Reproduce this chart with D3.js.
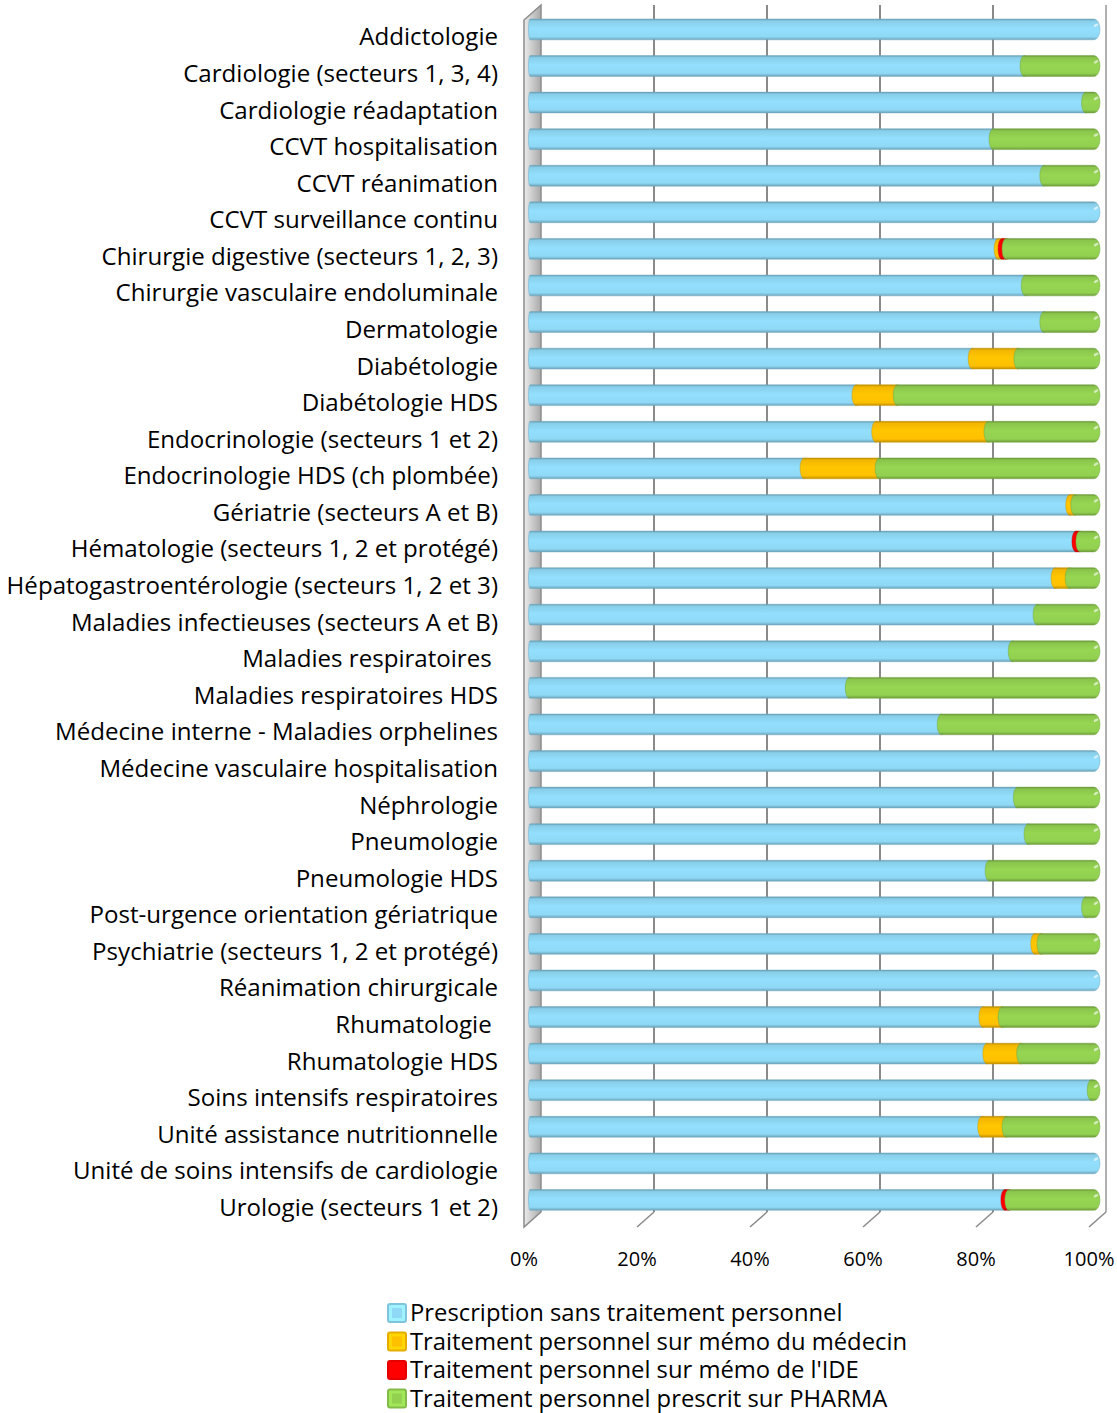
<!DOCTYPE html>
<html>
<head>
<meta charset="utf-8">
<script src="https://cdn.jsdelivr.net/npm/d3@7"></script>
<style>
  body { margin: 0; background: #fff; }
  text { font-family: "Open Sans", Lato, sans-serif; fill: #000; }
</style>
</head>
<body>
<div id="chart"></div>
<script>
// services (top to bottom)
const services = [
  "Addictologie", "Cardiologie (secteurs 1, 3, 4)", "Cardiologie réadaptation",
  "CCVT hospitalisation", "CCVT réanimation", "CCVT surveillance continu",
  "Chirurgie digestive (secteurs 1, 2, 3)", "Chirurgie vasculaire endoluminale",
  "Dermatologie", "Diabétologie", "Diabétologie HDS", "Endocrinologie (secteurs 1 et 2)",
  "Endocrinologie HDS (ch plombée)", "Gériatrie (secteurs A et B)",
  "Hématologie (secteurs 1, 2 et protégé)", "Hépatogastroentérologie (secteurs 1, 2 et 3)",
  "Maladies infectieuses (secteurs A et B)", "Maladies respiratoires ",
  "Maladies respiratoires HDS", "Médecine interne - Maladies orphelines",
  "Médecine vasculaire hospitalisation", "Néphrologie", "Pneumologie", "Pneumologie HDS",
  "Post-urgence orientation gériatrique", "Psychiatrie (secteurs 1, 2 et protégé)",
  "Réanimation chirurgicale", "Rhumatologie ", "Rhumatologie HDS",
  "Soins intensifs respiratoires", "Unité assistance nutritionnelle",
  "Unité de soins intensifs de cardiologie", "Urologie (secteurs 1 et 2)"
];

const sansTraitement = [1, 0.876, 0.985, 0.821, 0.911, 1, 0.830, 0.878, 0.911, 0.784, 0.578, 0.613,
  0.486, 0.957, 0.968, 0.931, 0.899, 0.855, 0.566, 0.729, 1, 0.864, 0.883, 0.814, 0.985, 0.895,
  1, 0.803, 0.810, 0.995, 0.801, 1, 0.842];
const memoMedecin = [0, 0, 0, 0, 0, 0, 0.007, 0, 0, 0.081, 0.073, 0.199, 0.133, 0.009, 0, 0.025,
  0, 0, 0, 0, 0, 0, 0, 0, 0, 0.011, 0, 0.034, 0.060, 0, 0.043, 0, 0];
const memoIDE = [0, 0, 0, 0, 0, 0, 0.007, 0, 0, 0, 0, 0, 0, 0, 0.007, 0, 0, 0, 0, 0, 0, 0, 0, 0,
  0, 0, 0, 0, 0, 0, 0, 0, 0.007];
const pharma = [0, 0.124, 0.015, 0.179, 0.089, 0, 0.156, 0.122, 0.089, 0.135, 0.349, 0.188, 0.381,
  0.034, 0.025, 0.044, 0.101, 0.145, 0.434, 0.271, 0, 0.136, 0.117, 0.186, 0.015, 0.094, 0, 0.163,
  0.130, 0.005, 0.156, 0, 0.151];

const seriesNames = [
  "Prescription sans traitement personnel",
  "Traitement personnel sur mémo du médecin",
  "Traitement personnel sur mémo de l'IDE",
  "Traitement personnel prescrit sur PHARMA"
];
const seriesColors = ["#8FD9F6", "#FFC000", "#FF0000", "#92D050"];
const ticks = [0, 0.2, 0.4, 0.6, 0.8, 1];

const W = 1117, H = 1413;
const depthX = -17, depthY = 15;       // 3D floor offset (back -> front)
const backTop = 5, backBottom = 1212;

const svg = d3.select("#chart").append("svg")
  .attr("width", W).attr("height", H)
  .style("background", "#fff");

const x = d3.scaleLinear().domain([0, 1]).range([530, 1094]);
const xBack = d3.scaleLinear().domain([0, 1]).range([541, 1106]);
const y = d3.scaleBand().domain(services).range([2.5, 1226.8]).paddingInner(0.43).paddingOuter(0.45);

// gradients for cylinders
const defs = svg.append("defs");
seriesColors.forEach((c, i) => {
  const g = defs.append("linearGradient").attr("id", "cyl" + i)
    .attr("x1", 0).attr("y1", 0).attr("x2", 0).attr("y2", 1);
  const base = d3.color(c);
  [[0, base.darker(0.9)], [0.1, base.darker(0.15)], [0.45, base.brighter(0.08)],
   [0.85, base], [1, base.darker(0.8)]].forEach(s => {
    g.append("stop").attr("offset", s[0]).attr("stop-color", s[1].formatHex());
  });
});
const wallGrad = defs.append("linearGradient").attr("id", "wall")
  .attr("x1", 0).attr("y1", 0).attr("x2", 1).attr("y2", 0);
wallGrad.append("stop").attr("offset", 0).attr("stop-color", "#ebebeb");
wallGrad.append("stop").attr("offset", 1).attr("stop-color", "#a9a9a9");

// left wall
svg.append("path")
  .attr("d", `M${xBack(0)},${backTop} L${xBack(0) + depthX},${backTop + depthY} L${xBack(0) + depthX},${backBottom + depthY} L${xBack(0)},${backBottom} Z`)
  .attr("fill", "url(#wall)").attr("stroke", "#8c8c8c").attr("stroke-width", 1.5);

// back wall gridlines
svg.append("g").selectAll("line")
  .data(ticks.slice(1))
  .join("line")
  .attr("x1", d => xBack(d)).attr("x2", d => xBack(d))
  .attr("y1", backTop).attr("y2", backBottom)
  .attr("stroke", d => d === 1 ? "#b0b0b0" : "#8a8a8a")
  .attr("stroke-width", 2);

// floor ticks
svg.append("g").selectAll("line")
  .data(ticks.slice(1))
  .join("line")
  .attr("x1", d => xBack(d)).attr("x2", d => xBack(d) + depthX)
  .attr("y1", backBottom).attr("y2", backBottom + depthY)
  .attr("stroke", "#8a8a8a").attr("stroke-width", 1.5);

// axis labels
svg.append("g").selectAll("text")
  .data(ticks)
  .join("text")
  .attr("x", d => xBack(d) + depthX)
  .attr("y", 1266)
  .attr("text-anchor", "middle")
  .style("font-size", "20px")
  .text(d => Math.round(d * 100) + "%");

// build stacked data
const rows = services.map((s, i) => {
  const vals = [sansTraitement[i], memoMedecin[i], memoIDE[i], pharma[i]];
  let acc = 0;
  const segs = vals.map((v, k) => {
    const seg = { k, x0: acc, x1: acc + v, v };
    acc += v;
    return seg;
  }).filter(d => d.v > 0);
  return { s, segs };
});

const ry = y.bandwidth() / 2, capRx = 6, leftRx = 4;

const barG = svg.append("g").selectAll("g")
  .data(rows)
  .join("g")
  .attr("transform", d => `translate(0,${y(d.s)})`);

barG.each(function(row) {
  const g = d3.select(this);
  const last = row.segs[row.segs.length - 1];
  row.segs.forEach((seg, j) => {
    const a = x(seg.x0), b = x(seg.x1);
    const la = j === 0 ? 1.5 : leftRx;
    const h = 2 * ry;
    const path = `M${a},0 L${b},0 A${capRx},${ry} 0 0 1 ${b},${h} L${a},${h} A${la},${ry} 0 0 1 ${a},0 Z`;
    g.append("path")
      .attr("d", path)
      .attr("fill", `url(#cyl${seg.k})`)
      .attr("stroke", d3.color(seriesColors[seg.k]).darker(0.7).formatHex())
      .attr("stroke-opacity", 0.45)
      .attr("stroke-width", 1);
  });
  // highlight on the end cap
  g.append("ellipse")
    .attr("cx", x(last.x1) + 2).attr("cy", ry * 0.6)
    .attr("rx", 2.6).attr("ry", 1.3)
    .attr("transform", `rotate(-30,${x(last.x1) + 2},${ry * 0.6})`)
    .attr("fill", "#fff").attr("opacity", 0.6);
});

// category labels
svg.append("g").selectAll("text")
  .data(services)
  .join("text")
  .attr("x", 498)
  .attr("y", d => y(d) + y.bandwidth() / 2 + 16)
  .attr("text-anchor", "end")
  .style("font-size", "24.1px")
  .style("white-space", "pre")
  .text(d => d);

// legend
const legend = svg.append("g").attr("transform", "translate(387,1303)");
const item = legend.selectAll("g")
  .data(seriesNames)
  .join("g")
  .attr("transform", (d, i) => `translate(0,${i * 28.5})`);
item.append("rect")
  .attr("x", 1).attr("y", 1).attr("width", 18).attr("height", 18).attr("rx", 2)
  .attr("fill", (d, i) => d3.color(seriesColors[i]).brighter(0.3).formatHex())
  .attr("stroke", (d, i) => d3.color(seriesColors[i]).darker(0.3).formatHex())
  .attr("stroke-width", 2);
item.append("rect")
  .attr("x", 5).attr("y", 5).attr("width", 10).attr("height", 10)
  .attr("fill", (d, i) => seriesColors[i]);
item.append("text")
  .attr("x", 23).attr("y", 18)
  .style("font-size", "23.8px")
  .text(d => d);
</script>
</body>
</html>
